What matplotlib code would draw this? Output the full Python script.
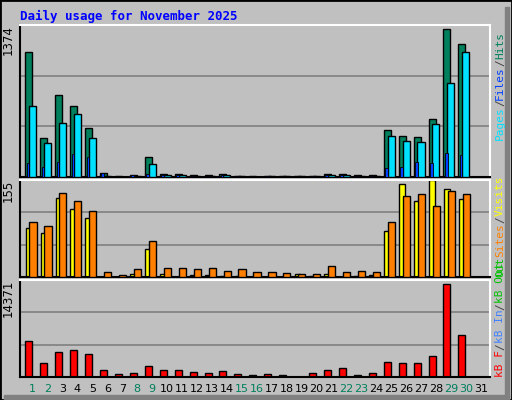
import matplotlib
matplotlib.use("Agg")
import matplotlib.pyplot as plt
import numpy as np

days = list(range(1, 32))
hits = [1128,355,737,646,446,36,5,18,182,27,25,15,15,25,10,5,12,8,6,12,30,30,15,15,428,373,364,528,1338,1201,0]
files = [646,309,491,573,355,5,3,10,118,20,20,10,10,18,5,3,8,5,5,8,22,22,10,10,373,327,318,482,846,1128,0]
pages = [127,91,136,209,182,36,3,15,30,15,20,8,10,15,5,3,5,4,3,8,22,22,5,10,82,91,136,127,218,200,0]
visits = [79,71,127,109,95,0,0,5,45,5,0,3,3,2,2,0,0,0,5,2,5,0,2,3,74,148,122,155,140,124,0]
sites = [88,82,135,122,106,8,3,13,58,14,14,13,14,10,13,8,8,6,5,5,18,8,10,8,88,129,132,114,138,132,0]
kbytes = [5340,2046,3742,3992,3393,998,399,549,1597,998,998,699,549,848,399,250,399,250,0,549,998,1297,250,549,2196,2046,2046,3094,13723,6237,0]
weekend = [1,2,8,9,15,16,22,23,29,30]

W, H = 512, 400
fig = plt.figure(figsize=(W/100, H/100), dpi=100)
fig.patch.set_facecolor("#C0C0C0")
fn = "DejaVu Sans Mono"
fig.add_artist(plt.Rectangle((0, 0), 1, 1, transform=fig.transFigure, fill=False, ec="black", lw=2))
fig.add_artist(plt.Rectangle((505/W, 0), 4/W, 393/H, transform=fig.transFigure, color="#808080"))
fig.add_artist(plt.Rectangle((4/W, 1/H), 505/W, 4/H, transform=fig.transFigure, color="#808080"))

def ax_px(x0, y0, x1, y1):
    return fig.add_axes([x0/W, 1-y1/H, (x1-x0)/W, (y1-y0)/H])

x = np.array(days, dtype=float)
xl = (0.13, 31.6)

def style(ax, ymax, label):
    ax.set_facecolor("#C0C0C0")
    ax.set_xlim(*xl)
    ax.set_ylim(0, ymax)
    for y in (ymax/3, 2*ymax/3):
        ax.axhline(y, color="#808080", lw=1.2, zorder=0)
    ax.set_xticks([]); ax.set_yticks([])
    for s in ax.spines.values():
        s.set_color("black"); s.set_linewidth(1.5)
    ax.spines["top"].set_color("white"); ax.spines["right"].set_color("white")
    ax.text(-0.012, 1.0, label, transform=ax.transAxes, rotation=90, ha="right", va="top",
            fontsize=8.5, family="DejaVu Sans")

ax1 = ax_px(20, 25, 490, 177)
style(ax1, 1374, "1374")
kw = dict(edgecolor="black", linewidth=1)
ax1.bar(x-0.28, hits, 0.47, color="#00805C", **kw, zorder=2)
ax1.bar(x-0.02, files, 0.47, color="#00E0FF", **kw, zorder=3)
ax1.bar(x-0.33, pages, 0.17, color="#0040FF", edgecolor="black", linewidth=0.6, zorder=4)

ax2 = ax_px(20, 180, 490, 277)
style(ax2, 155, "155")
ax2.bar(x-0.3, visits, 0.38, color="#FFFF00", **kw, zorder=2)
ax2.bar(x+0.0, sites, 0.48, color="#FF8000", **kw, zorder=3)

ax3 = ax_px(20, 280, 490, 377)
style(ax3, 14371, "14371")
ax3.bar(x-0.28, kbytes, 0.47, color="#FF0000", **kw, zorder=2)

for d in days:
    ax3.text(d-0.02, -0.12, str(d), transform=ax3.get_xaxis_transform(), ha="center", va="center",
             fontsize=8, family="DejaVu Sans", color="#00805C" if d in weekend else "black")

fig.text(20/W, 1-16/H, "Daily usage for November 2025", fontsize=9, weight="bold",
         family=fn, color="#0000FF", va="center", ha="left")

fig.canvas.draw()
renderer = fig.canvas.get_renderer()

def side_bt(parts, ybottom):
    y = ybottom
    for txt, c in parts:
        t = fig.text(500/W, 1-y/H, txt, rotation=90, ha="center", va="bottom",
                     fontsize=8, family=fn, color=c)
        ext = t.get_window_extent(renderer)
        y -= ext.height

side_bt([("Pages", "#00E0FF"), ("/", "#404040"), ("Files", "#0040FF"), ("/", "#404040"), ("Hits", "#00805C")], 140)
side_bt([("Out", "#00C000"), ("Sites", "#FF8000"), ("/", "#404040"), ("Visits", "#FFFF00")], 277)
side_bt([("kB F", "#FF0000"), ("/", "#404040"), ("kB In", "#4080FF"), ("/", "#404040"), ("kB Out", "#00C000")], 377)

fig.savefig("out.png", dpi=100, facecolor=fig.get_facecolor())
